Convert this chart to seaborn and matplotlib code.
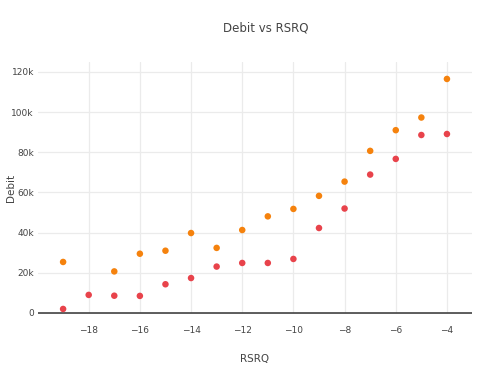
import pandas as pd
import matplotlib.pyplot as plt
import seaborn as sns

# ---------------------------
# Data
# ---------------------------

rsrq_a = [-19, -17, -16, -15, -14, -13, -12, -11, -10, -9, -8, -7, -6, -5, -4]
debit_a = [25400, 20700, 29500, 31000, 39800, 32400, 41300, 48100, 51800,
           58300, 65400, 80700, 91000, 97300, 116500]

rsrq_b = [-19, -18, -17, -16, -15, -14, -13, -12, -11, -10, -9, -8, -7, -6, -5, -4]
debit_b = [2000, 9000, 8600, 8500, 14300, 17400, 23100, 24900, 24900, 26900,
           42300, 52000, 68900, 76700, 88600, 89100]

series_names = ["Series A", "Series B"]
series_colors = ["#F5820D", "#E8434B"]

y_ticks = [0, 20000, 40000, 60000, 80000, 100000, 120000]
y_tick_labels = ["0", "20k", "40k", "60k", "80k", "100k", "120k"]
x_ticks = [-18, -16, -14, -12, -10, -8, -6, -4]

df = pd.concat([
    pd.DataFrame({"RSRQ": rsrq_b, "Debit": debit_b, "series": series_names[1]}),
    pd.DataFrame({"RSRQ": rsrq_a, "Debit": debit_a, "series": series_names[0]}),
], ignore_index=True)

# ---------------------------
# Plot
# ---------------------------

sns.set_style("white")
plt.rcParams["font.family"] = ["DejaVu Sans"]
text_color = "#444444"

fig = plt.figure(figsize=(4.9, 3.75), dpi=100)
ax = fig.add_axes([0.0776, 0.1627, 0.8857, 0.6723])

sns.scatterplot(data=df, x="RSRQ", y="Debit", hue="series",
                palette=dict(zip(series_names, series_colors)),
                s=22, linewidth=0, legend=False, ax=ax, zorder=3)

ax.set_xlim(-19.98, -3.02)
ax.set_ylim(-500, 125000)
ax.set_xticks(x_ticks)
ax.set_xticklabels([f"\u2212{abs(t)}" for t in x_ticks])
ax.set_yticks(y_ticks)
ax.set_yticklabels(y_tick_labels)

ax.grid(True, color="#EBEBEB", linewidth=0.9, zorder=0)
ax.axhline(0, color="#444444", linewidth=1.2, zorder=2)
for side in ax.spines.values():
    side.set_visible(False)

ax.tick_params(axis="x", length=0, labelsize=6.5, colors=text_color, pad=9)
ax.tick_params(axis="y", length=0, labelsize=6.5, colors=text_color, pad=3)
ax.set_xlabel("RSRQ", fontsize=7.5, color=text_color)
ax.set_ylabel("Debit", fontsize=7.5, color=text_color)
ax.xaxis.set_label_coords(0.5, -0.16)
ax.yaxis.set_label_coords(-0.05, 0.5)

fig.text(0.543, 0.925, "Debit vs RSRQ", ha="center", va="center",
         fontsize=8.5, color=text_color)

fig.savefig("out.png", dpi=100)
